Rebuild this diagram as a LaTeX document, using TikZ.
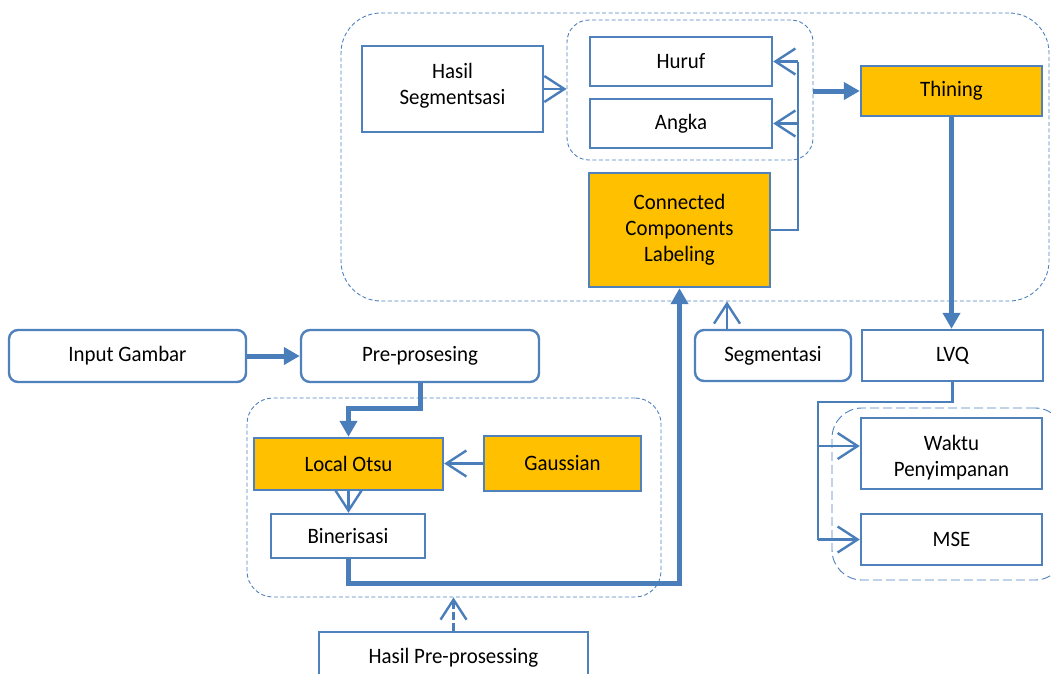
\documentclass[tikz,border=0pt]{standalone}
\usepackage{fontspec}
\setmainfont{Carlito}
\newfontfamily\normfont[FakeStretch=0.95]{Carlito}
\usetikzlibrary{arrows.meta}
\definecolor{bl}{HTML}{4F81BD}
\definecolor{bll}{HTML}{4A7EBB}
\definecolor{og}{HTML}{FFC000}
\begin{document}
\begin{tikzpicture}[x=1pt,y=-1pt,
 box/.style={draw=bl, line width=2.4pt, fill=white, align=center, inner sep=0pt,
   font=\normfont\fontsize{22}{26}\selectfont},
 rnd/.style={rounded corners=9pt},
 orange/.style={fill=og},
 grp/.style={draw=bl, line width=0.9pt, dash pattern=on 4pt off 2.5pt, rounded corners=#1, inner sep=0pt},
 conn/.style={draw=bll, line width=2.4pt, -{Straight Barb[length=20pt,width=26pt]}},
 dconn/.style={conn, dash pattern=on 8pt off 3pt},
 plain/.style={draw=bll, line width=2.4pt},
 heavy/.style={draw=bll, line width=5pt, -{Triangle[length=16pt,width=17pt]}},
]
\useasboundingbox (0,0) rectangle (1051,673);

% groups
\node[grp=40pt, minimum width=708pt, minimum height=288pt] (g1) at (695,157) {};
\node[grp=22pt, minimum width=246pt, minimum height=140pt] (g2) at (690,90) {};
\node[grp=26pt, minimum width=414pt, minimum height=199pt] (g3) at (454,497.5) {};
\node[grp=30pt, dash pattern=on 9pt off 4pt, minimum width=233pt, minimum height=172pt] (g4) at (948.5,494) {};

% nodes
\node[box, minimum width=181pt, minimum height=86pt] (hs) at (452.5,89) {\raisebox{3pt}[\height][\depth]{\begin{tabular}{@{}c@{}}Hasil\\Segmentsasi\end{tabular}}};
\node[box, minimum width=182pt, minimum height=49pt] (huruf) at (681,61.5) {Huruf};
\node[box, minimum width=182pt, minimum height=49pt] (angka) at (681,123.5) {Angka};
\node[box, orange, minimum width=181pt, minimum height=114pt] (ccl) at (679.5,230) {Connected\\Components\\Labeling};
\node[box, orange, minimum width=181pt, minimum height=50pt] (thin) at (951.5,91) {Thining};
\node[box, minimum width=181pt, minimum height=51pt] (lvq) at (952.5,355.5) {LVQ};
\node[box, rnd, minimum width=156pt, minimum height=51pt] (seg) at (773,355.5) {Segmentasi};
\node[box, rnd, minimum width=237pt, minimum height=52pt] (inp) at (127.5,356) {Input Gambar};
\node[box, rnd, minimum width=238pt, minimum height=52pt] (pre) at (420,356) {Pre-prosesing};
\node[box, orange, minimum width=189pt, minimum height=52pt] (lo) at (348.5,464) {Local Otsu};
\node[box, orange, minimum width=157pt, minimum height=55pt] (ga) at (562.5,463.5) {Gaussian};
\node[box, minimum width=154pt, minimum height=44pt] (bin) at (348,536) {Binerisasi};
\node[box, minimum width=269pt, minimum height=52pt] (hpp) at (453.5,658) {Hasil Pre-prosessing};
\node[box, minimum width=181pt, minimum height=71pt] (wak) at (951.5,453.5) {\raisebox{-5pt}[\height][\depth]{\begin{tabular}{@{}c@{}}Waktu\\Penyimpanan\end{tabular}}};
\node[box, minimum width=181pt, minimum height=51pt] (mse) at (951.5,539.5) {MSE};

% connectors
\coordinate (bx) at (798,0);
\coordinate (lx) at (818,0);
\draw[conn] (hs.east) -- (hs.east -| g2.west);
\draw[plain] (ccl.east) -| (bx |- huruf.east);
\draw[conn] (bx |- huruf.east) -- (huruf.east);
\draw[conn] (bx |- angka.east) -- (angka.east);
\draw[heavy] (g2.east |- thin.west) -- (thin.west);
\draw[heavy] (thin.south) -- (thin.south |- lvq.north);
\draw[conn] ([xshift=-46pt]seg.north) -- ([xshift=-46pt]seg.north |- g1.south);
\draw[heavy] (inp.east) -- (pre.west);
\draw[heavy] (pre.south) -- ++(0,25) -| (lo.north);
\draw[conn] (ga.west) -- (lo.east |- ga.west);
\draw[conn] (lo.south) -- (lo.south |- bin.north);
\draw[heavy] (bin.south) -- ++(0,24) -| (ccl.south);
\draw[dconn] (hpp.north) -- (hpp.north |- g3.south);
\draw[plain] (lvq.south) -- ++(0,20) -| (lx |- mse.west);
\draw[conn] ([yshift=7.5pt]lx |- wak.west) -- ([yshift=7.5pt]wak.west);
\draw[conn] (lx |- mse.west) -- (mse.west);
\end{tikzpicture}
\end{document}
